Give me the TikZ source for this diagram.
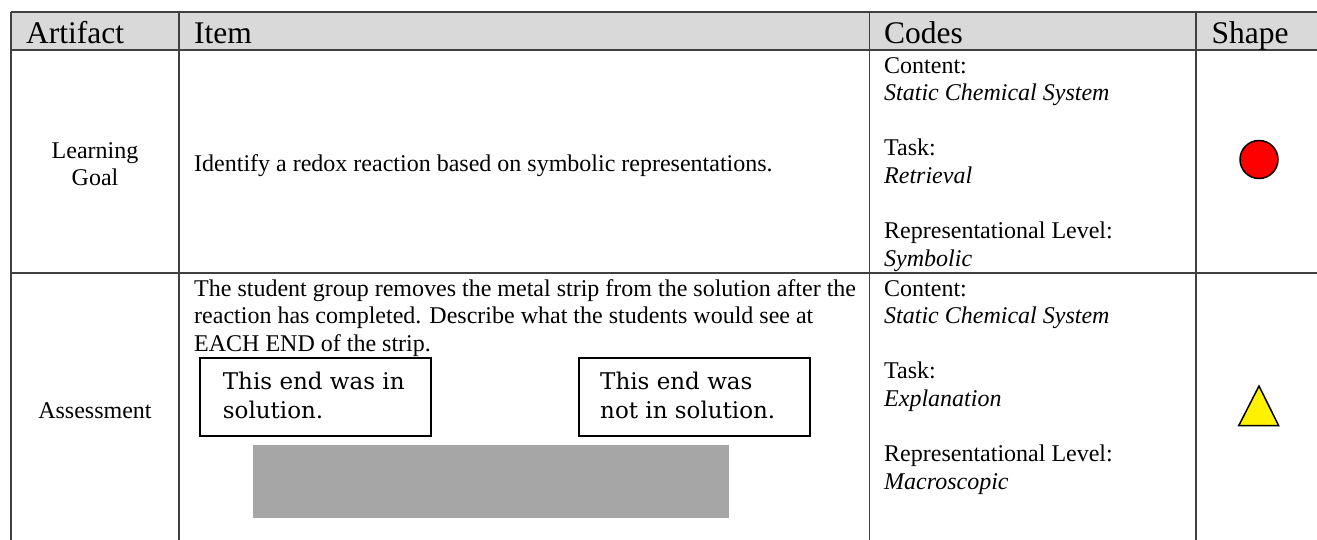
\documentclass[tikz,border=0pt]{standalone}
\usepackage{fontspec}
\setmainfont{Liberation Serif}
\newfontfamily\boxfont{DejaVu Serif}
\definecolor{rulegray}{RGB}{64,64,64}
\definecolor{headfill}{RGB}{217,217,217}
\definecolor{stripgray}{RGB}{166,166,166}
\tikzset{
  grid/.style={draw=rulegray, line width=1.7pt},
  hdr/.style={anchor=base west, inner sep=0pt, font=\fontsize{31.5}{36}\selectfont},
  txt/.style={anchor=base west, inner sep=0pt, font=\fontsize{24}{27.6}\selectfont},
  ctxt/.style={anchor=base, inner sep=0pt, font=\fontsize{24}{27.6}\selectfont},
  code/.style={anchor=base west, inner sep=0pt, font=\fontsize{24}{27.6}\selectfont\itshape},
  boxtxt/.style={anchor=base west, inner sep=0pt, font=\boxfont\fontsize{23}{29}\selectfont},
  answerbox/.style={draw=black, line width=2pt, inner sep=0pt, anchor=north west,
                    minimum width=231pt, minimum height=77.7pt},
}
\begin{document}
\begin{tikzpicture}[x=1pt, y=-1pt]
\useasboundingbox (0,0) rectangle (1317,539);
\clip (0,0) rectangle (1317,539);

% header band
\fill[headfill] (11,12.3) rectangle (1340,50);

% table rules
\draw[grid] (11,12.3) -- (1340,12.3);
\draw[grid] (11,50) -- (1340,50);
\draw[grid] (11,273) -- (1340,273);
\draw[grid] (11,12.3) -- (11,560);
\draw[grid] (179,12.3) -- (179,560);
\draw[grid] (869.5,12.3) -- (869.5,560);
\draw[grid] (1196,12.3) -- (1196,560);

% header
\node[hdr] (hArtifact) at (26,43.3) {Artifact};
\node[hdr] (hItem) at (194,43.3) {Item};
\node[hdr] (hCodes) at (884,43.3) {Codes};
\node[hdr] (hShape) at (1211.5,43.3) {Shape};

% row 1: learning goal
\node[ctxt] (lgA) at (95,158.5) {Learning};
\node[ctxt] (lgB) at (95,185.5) {Goal};
\node[txt] (lgItem) at (194,171.5) {Identify a redox reaction based on symbolic representations.};
\node[txt] (lgC1) at (884,73) {Content:};
\node[code] (lgC2) at (884,100.6) {Static Chemical System};
\node[txt] (lgT1) at (884,155.8) {Task:};
\node[code] (lgT2) at (884,183.4) {Retrieval};
\node[txt] (lgR1) at (884,238.6) {Representational Level:};
\node[code] (lgR2) at (884,266.2) {Symbolic};
\node[circle, draw=black, line width=1.5pt, fill=red, minimum size=38pt, inner sep=0pt] (goalmark) at (1259,159.5) {};

% row 2: assessment
\node[ctxt] (asA) at (95,418) {Assessment};
\node[txt] (asP1) at (194,296) {The student group removes the metal strip from the solution after the};
\node[txt] (asP2) at (194,323.6) {reaction has completed. Describe what the students would see at};
\node[txt] (asP3) at (194,351.2) {EACH END of the strip.};

\node[answerbox] (boxIn) at (199.3,357.3) {};
\node[boxtxt] (boxInA) at (222.7,389.3) {This end was in};
\node[boxtxt] (boxInB) at (222.7,418.3) {solution.};
\node[answerbox] (boxOut) at (577.7,357.3) {};
\node[boxtxt] (boxOutA) at (600,389.3) {This end was};
\node[boxtxt] (boxOutB) at (600,418.3) {not in solution.};

\fill[stripgray] (253.3,445) rectangle (728.7,518.3);

\node[txt] (asC1) at (884,296) {Content:};
\node[code] (asC2) at (884,323.6) {Static Chemical System};
\node[txt] (asT1) at (884,378.8) {Task:};
\node[code] (asT2) at (884,406.4) {Explanation};
\node[txt] (asR1) at (884,461.6) {Representational Level:};
\node[code] (asR2) at (884,489.2) {Macroscopic};

\coordinate (triTop) at (1259,386);
\coordinate (triL) at (1238.7,425.7);
\coordinate (triR) at (1278.7,425.7);
\draw[black, line width=1.5pt, fill=yellow, line join=miter] (triTop) -- (triR) -- (triL) -- cycle;
\end{tikzpicture}
\end{document}
